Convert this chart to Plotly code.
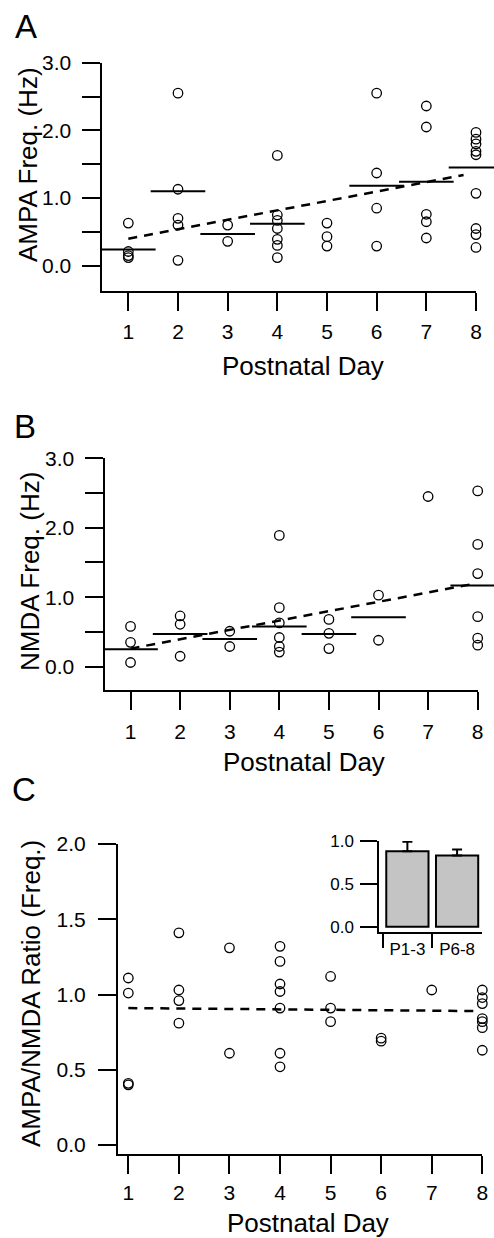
import plotly.graph_objects as go

# ---------------- data ----------------
days_a = [1, 1, 1, 1,
          2, 2, 2, 2, 2,
          3, 3,
          4, 4, 4, 4, 4, 4, 4,
          5, 5, 5,
          6, 6, 6, 6,
          7, 7, 7, 7, 7,
          8, 8, 8, 8, 8, 8, 8, 8, 8]
ampa_freq = [0.63, 0.21, 0.15, 0.12,
             2.55, 1.13, 0.70, 0.60, 0.08,
             0.60, 0.36,
             1.63, 0.75, 0.67, 0.55, 0.39, 0.30, 0.12,
             0.63, 0.43, 0.29,
             2.55, 1.37, 0.85, 0.29,
             2.36, 2.05, 0.76, 0.65, 0.41,
             1.97, 1.87, 1.80, 1.69, 1.64, 1.07, 0.55, 0.46, 0.27]
ampa_mean_days = [1, 2, 3, 4, 6, 7, 8]
ampa_means = [0.24, 1.10, 0.47, 0.62, 1.18, 1.24, 1.45]
ampa_fit_days = [1, 7.75]
ampa_fit = [0.40, 1.34]

days_b = [1, 1, 1,
          2, 2, 2,
          3, 3,
          4, 4, 4, 4, 4, 4,
          5, 5, 5,
          6, 6,
          7,
          8, 8, 8, 8, 8, 8]
nmda_freq = [0.58, 0.35, 0.06,
             0.73, 0.61, 0.15,
             0.51, 0.29,
             1.89, 0.85, 0.63, 0.42, 0.29, 0.21,
             0.68, 0.48, 0.26,
             1.03, 0.38,
             2.45,
             2.53, 1.76, 1.34, 0.72, 0.41, 0.31]
nmda_mean_days = [1, 2, 3, 4, 5, 6, 8]
nmda_means = [0.25, 0.47, 0.40, 0.58, 0.47, 0.71, 1.17]
nmda_fit_days = [1, 7.9]
nmda_fit = [0.26, 1.19]

days_c = [1, 1, 1, 1,
          2, 2, 2, 2,
          3, 3,
          4, 4, 4, 4, 4, 4, 4,
          5, 5, 5,
          6, 6,
          7,
          8, 8, 8, 8, 8, 8, 8]
ratio = [1.11, 1.01, 0.41, 0.40,
         1.41, 1.03, 0.96, 0.81,
         1.31, 0.61,
         1.32, 1.22, 1.07, 1.02, 0.91, 0.61, 0.52,
         1.12, 0.91, 0.82,
         0.71, 0.69,
         1.03,
         1.03, 0.98, 0.94, 0.84, 0.82, 0.78, 0.63]
ratio_fit_days = [1, 7.95]
ratio_fit = [0.91, 0.89]

inset_groups = ["P1-3", "P6-8"]
inset_means = [0.88, 0.83]
inset_sem = [0.11, 0.07]

day_ticks = [1, 2, 3, 4, 5, 6, 7, 8]
freq_tickvals = [0, 0.5, 1.0, 1.5, 2.0, 2.5, 3.0]
freq_ticktext = ["0.0", "", "1.0", "", "2.0", "", "3.0"]
ratio_tickvals = [0, 0.5, 1.0, 1.5, 2.0]
ratio_ticktext = ["0.0", "0.5", "1.0", "1.5", "2.0"]
inset_tickvals = [0, 0.5, 1.0]
inset_ticktext = ["0.0", "0.5", "1.0"]

# ---------------- layout helpers ----------------
W, H = 494, 1238
FONT = "Liberation Sans, Arial, Helvetica, sans-serif"


def xd(a, b):
    return [a / W, b / W]


def yd(top, bottom):
    return [1 - bottom / H, 1 - top / H]


def axis_style(**kw):
    d = dict(showline=True, linecolor="black", linewidth=2, ticks="outside",
             ticklen=18, tickwidth=2, tickcolor="black", showgrid=False,
             zeroline=False, automargin=False,
             tickfont=dict(family=FONT, size=21, color="black"))
    d.update(kw)
    return d


fig = go.Figure()

circ = dict(symbol="circle-open", size=9.5, color="black", line=dict(color="black", width=1.3))
meanbar = dict(symbol="line-ew", size=39, color="black", line=dict(color="black", width=2))
dashed = dict(color="black", width=2.5, dash="9px,7px")

panels = [
    ("x", "y", days_a, ampa_freq, ampa_mean_days, ampa_means, ampa_fit_days, ampa_fit),
    ("x2", "y2", days_b, nmda_freq, nmda_mean_days, nmda_means, nmda_fit_days, nmda_fit),
    ("x3", "y3", days_c, ratio, None, None, ratio_fit_days, ratio_fit),
]
for xa, ya, dx, vy, md, mv, fd, fv in panels:
    fig.add_trace(go.Scatter(x=fd, y=fv, mode="lines", line=dashed, xaxis=xa, yaxis=ya,
                             showlegend=False, hoverinfo="skip"))
    fig.add_trace(go.Scatter(x=dx, y=vy, mode="markers", marker=circ, xaxis=xa, yaxis=ya,
                             cliponaxis=False, showlegend=False))
    if md is not None:
        fig.add_trace(go.Scatter(x=md, y=mv, mode="markers", marker=meanbar, xaxis=xa, yaxis=ya,
                                 cliponaxis=False, showlegend=False))

fig.add_trace(go.Bar(x=inset_groups, y=inset_means, width=0.85,
                     marker=dict(color="#c4c4c4", line=dict(color="black", width=2)),
                     error_y=dict(type="data", array=inset_sem, arrayminus=[0, 0],
                                  symmetric=False, color="black", thickness=2, width=5),
                     xaxis="x4", yaxis="y4", showlegend=False))

fig.update_layout(
    template="none",
    width=W, height=H, autosize=False,
    margin=dict(l=0, r=0, t=0, b=0, pad=0),
    paper_bgcolor="white", plot_bgcolor="rgba(0,0,0,0)",
    showlegend=False,
    font=dict(family=FONT, color="black"),
    # Panel A
    xaxis=axis_style(domain=xd(101.5, 476), range=[0.46, 8], tickvals=day_ticks,
                     anchor="y", ticklabelstandoff=3),
    yaxis=axis_style(domain=yd(62.7, 290.5), range=[-0.366, 3.0], tickvals=freq_tickvals,
                     ticktext=freq_ticktext, anchor="x", ticklabelstandoff=6),
    # Panel B
    xaxis2=axis_style(domain=xd(104.5, 477.7), range=[0.475, 8], tickvals=day_ticks,
                      anchor="y2", ticklabelstandoff=4),
    yaxis2=axis_style(domain=yd(458.3, 690), range=[-0.336, 3.0], tickvals=freq_tickvals,
                      ticktext=freq_ticktext, anchor="x2", ticklabelstandoff=6),
    # Panel C
    xaxis3=axis_style(domain=xd(118, 482.3), range=[0.796, 8], tickvals=day_ticks,
                      anchor="y3", ticklabelstandoff=1),
    yaxis3=axis_style(domain=yd(844, 1153.5), range=[-0.056, 2.0], tickvals=ratio_tickvals,
                      ticktext=ratio_ticktext, anchor="x3", ticklabelstandoff=8),
    # Inset
    xaxis4=axis_style(domain=xd(379.3, 481.7), range=[-0.565, 1.495], type="category",
                      tickson="boundaries", ticklen=14, anchor="y4",
                      tickfont=dict(family=FONT, size=17, color="black"), ticklabelstandoff=0),
    yaxis4=axis_style(domain=yd(841, 932.3), range=[-0.065, 1.0], tickvals=inset_tickvals,
                      ticktext=inset_ticktext, ticklen=17, anchor="x4",
                      tickfont=dict(family=FONT, size=17, color="black"), ticklabelstandoff=3),
)

ann = []


def add_text(text, x, y, size, angle=0):
    ann.append(dict(text=text, x=x / W, y=1 - y / H, xref="paper", yref="paper",
                    showarrow=False, xanchor="center", yanchor="middle", textangle=angle,
                    font=dict(family=FONT, size=size, color="black")))


add_text("A", 26, 26, 33)
add_text("B", 25, 426, 33)
add_text("C", 24, 789, 33)
add_text("AMPA Freq. (Hz)", 28, 165, 26, -90)
add_text("NMDA Freq. (Hz)", 30, 572, 26, -90)
add_text("AMPA/NMDA Ratio (Freq.)", 31, 994, 26, -90)
add_text("Postnatal Day", 302.5, 366, 26)
add_text("Postnatal Day", 304, 762, 26)
add_text("Postnatal Day", 307.5, 1223, 26)
fig.update_layout(annotations=ann)

fig.write_html("out.html", config={"displayModeBar": False},
               post_script="document.body.style.margin='0';document.body.style.padding='0';")
